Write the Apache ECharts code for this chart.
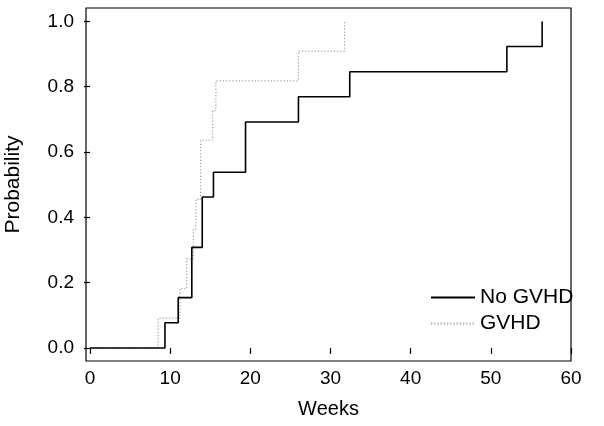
<!DOCTYPE html>
<html>
<head>
<meta charset="utf-8">
<script src="https://cdn.jsdelivr.net/npm/echarts@6/dist/echarts.min.js"></script>
<style>html,body{margin:0;padding:0;background:#fff}#c{width:604px;height:426px}</style>
</head>
<body>
<div id="c"></div>
<script>
// Kaplan-Meier style cumulative probability
var noGvhdWeeks = [0, 9.35, 11.0, 12.7, 14.0, 15.4, 19.4, 26.0, 32.4, 52.0, 56.4];
var noGvhdProb  = [0, 0.077, 0.154, 0.308, 0.462, 0.538, 0.692, 0.769, 0.846, 0.923, 1.0];
var gvhdWeeks   = [0, 8.5, 11.2, 12.05, 12.9, 13.2, 13.8, 15.3, 15.7, 26.0, 31.75];
var gvhdProb    = [0, 0.091, 0.182, 0.273, 0.364, 0.455, 0.636, 0.727, 0.818, 0.909, 1.0];
var xTicks = [0, 10, 20, 30, 40, 50, 60];
var yTicks = [0, 0.2, 0.4, 0.6, 0.8, 1.0];
var seriesNames = ['No GVHD', 'GVHD'];

function pairs(xs, ys) { return xs.map(function (x, i) { return [x, ys[i]]; }); }

var font = 'Liberation Sans, Arial, Helvetica, sans-serif';
var chart = echarts.init(document.getElementById('c'), null, { renderer: 'canvas' });
chart.setOption({
  animation: false,
  backgroundColor: '#fff',
  grid: { left: 86, right: 33, top: 8, bottom: 65, outerBoundsMode: 'none', containLabel: false,
    show: true, borderColor: '#000', borderWidth: 1.2, backgroundColor: 'transparent' },
  xAxis: {
    type: 'value', min: -0.5, max: 60,
    name: 'Weeks', nameLocation: 'middle', nameGap: 38,
    nameTextStyle: { color: '#000', fontSize: 20, fontFamily: font },
    axisLine: { show: false },
    splitLine: { show: false },
    axisTick: { show: true, customValues: xTicks, length: 6, lineStyle: { color: '#000', width: 1.2 } },
    axisLabel: { customValues: xTicks, color: '#000', fontSize: 19, fontFamily: font, margin: 8 }
  },
  yAxis: {
    type: 'value', min: -0.04, max: 1.041,
    name: 'Probability', nameLocation: 'middle', nameGap: 62,
    nameTextStyle: { color: '#000', fontSize: 21, fontFamily: font },
    axisLine: { show: false },
    splitLine: { show: false },
    axisTick: { show: true, customValues: yTicks, length: 6, lineStyle: { color: '#000', width: 1.2 } },
    axisLabel: { customValues: yTicks, color: '#000', fontSize: 19, fontFamily: font, margin: 12,
      formatter: function (v) { return v.toFixed(1); } }
  },
  legend: {
    orient: 'vertical', left: 425, top: 282,
    itemWidth: 44, itemHeight: 14, itemGap: 5,
    itemStyle: { opacity: 0 },
    textStyle: { color: '#000', fontSize: 21, fontFamily: font, padding: [0, 0, 0, 0] },
    data: seriesNames
  },
  series: [
    { name: seriesNames[0], type: 'line', step: 'end', symbol: 'none', z: 3,
      lineStyle: { color: '#000', width: 1.6 }, itemStyle: { color: '#000' },
      data: pairs(noGvhdWeeks, noGvhdProb) },
    { name: seriesNames[1], type: 'line', step: 'end', symbol: 'none', z: 2,
      lineStyle: { color: '#a0a0a0', width: 1.2, type: [1.2, 2] }, itemStyle: { color: '#a0a0a0' },
      data: pairs(gvhdWeeks, gvhdProb) }
  ]
});
</script>
</body>
</html>
